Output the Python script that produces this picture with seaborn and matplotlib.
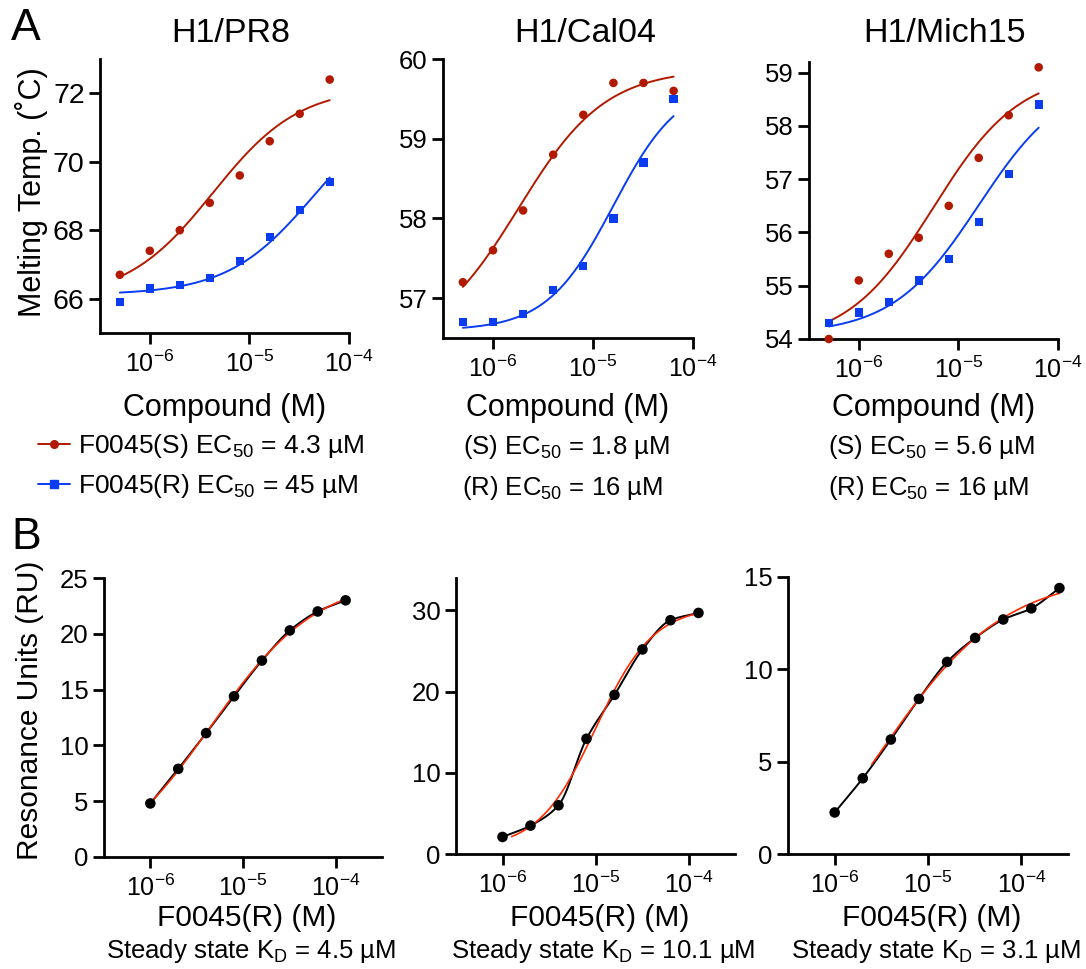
import numpy as np
import matplotlib
matplotlib.use("Agg")
import matplotlib.pyplot as plt
import seaborn as sns
from matplotlib.lines import Line2D

sns.set_style("ticks")
plt.rcParams['font.family'] = ['Liberation Sans', 'DejaVu Sans']
plt.rcParams.update({
    'mathtext.fontset': 'custom', 'mathtext.rm': 'Liberation Sans',
    'mathtext.it': 'Liberation Sans:italic', 'mathtext.default': 'regular',
    'axes.linewidth': 2.0, 'axes.edgecolor': 'black',
    'xtick.major.width': 2.0, 'ytick.major.width': 2.0,
    'xtick.major.size': 8, 'ytick.major.size': 8,
    'xtick.color': 'black', 'ytick.color': 'black', 'text.color': 'black',
})

RED = '#b21a00'
BLUE = '#0a3cf2'
FIT_RED = '#ff2a00'

# ── Panel A: thermal shift data ──
conc_a = [5e-7, 1e-6, 2e-6, 4e-6, 8e-6, 1.6e-5, 3.2e-5, 6.4e-5]
strains = ['H1/PR8', 'H1/Cal04', 'H1/Mich15']
pr8_s = [66.7, 67.4, 68.0, 68.8, 69.6, 70.6, 71.4, 72.4]
pr8_r = [65.9, 66.3, 66.4, 66.6, 67.1, 67.8, 68.6, 69.4]
cal04_s = [57.2, 57.6, 58.1, 58.8, 59.3, 59.7, 59.7, 59.6]
cal04_r = [56.7, 56.7, 56.8, 57.1, 57.4, 58.0, 58.7, 59.5]
mich15_s = [54.0, 55.1, 55.6, 55.9, 56.5, 57.4, 58.2, 59.1]
mich15_r = [54.3, 54.5, 54.7, 55.1, 55.5, 56.2, 57.1, 58.4]
ec50_s = [4.3, 1.8, 5.6]   # µM
ec50_r = [45, 16, 16]      # µM
hill_s = [1.0, 1.0, 1.0]
hill_r = [1.0, 1.3, 1.0]
ylims_a = [(65, 73), (56.5, 60), (54, 59.2)]
yticks_a = [[66, 68, 70, 72], [57, 58, 59, 60], [54, 55, 56, 57, 58, 59]]

# ── Panel B: SPR steady state data ──
conc_b = [1e-6, 2e-6, 4e-6, 8e-6, 1.6e-5, 3.2e-5, 6.4e-5, 1.28e-4]
conc_b3 = [1e-6, 2e-6, 4e-6, 8e-6, 1.6e-5, 3.2e-5, 6.4e-5, 1.28e-4, 2.56e-4]
ru_1 = [4.8, 7.9, 11.1, 14.4, 17.6, 20.3, 22.0, 23.0]
ru_2 = [2.1, 3.5, 6.0, 14.2, 19.6, 25.2, 28.8, 29.7]
ru_3 = [2.25, 4.1, 6.2, 8.4, 10.4, 11.7, 12.7, 13.3, 14.4]
kd_values = [4.5, 10.1, 3.1]   # µM
fit_start_b = [1e-6, 1.25e-6, 2.5e-6]
ylims_b = [(0, 25), (0, 34), (0, 15)]
yticks_b = [[0, 5, 10, 15, 20, 25], [0, 10, 20, 30], [0, 5, 10, 15]]


def fit_curve(x, y, ec50, x_lo, x_hi, hill=None):
    # sigmoid with EC50 fixed; hill given or grid searched; bottom/top by least squares
    x = np.asarray(x, float)
    y = np.asarray(y, float)
    hills = [hill] if hill is not None else np.linspace(0.5, 3.0, 101)
    best = None
    for h in hills:
        f = 1 / (1 + (ec50 / x) ** h)
        A = np.column_stack([1 - f, f])
        coef = np.linalg.lstsq(A, y, rcond=None)[0]
        sse = np.sum((A @ coef - y) ** 2)
        if best is None or sse < best[0]:
            best = (sse, h, coef)
    _, h, (bot, top) = best
    xs = np.logspace(np.log10(x_lo), np.log10(x_hi), 200)
    fs = 1 / (1 + (ec50 / xs) ** h)
    return xs, bot + (top - bot) * fs


def smooth_line(x, y, n=30):
    # monotone cubic (Fritsch-Carlson) through the points in log-x
    lx = np.log10(x)
    y = np.asarray(y, float)
    d = np.diff(y) / np.diff(lx)
    m = np.empty_like(y)
    m[0], m[-1] = d[0], d[-1]
    for k in range(1, len(y) - 1):
        m[k] = 0 if d[k - 1] * d[k] <= 0 else 2 / (1 / d[k - 1] + 1 / d[k])
    xs, ys = [], []
    t = np.linspace(0, 1, n)
    for i in range(len(lx) - 1):
        h = lx[i + 1] - lx[i]
        h00 = 2 * t**3 - 3 * t**2 + 1
        h10 = t**3 - 2 * t**2 + t
        h01 = -2 * t**3 + 3 * t**2
        h11 = t**3 - t**2
        xs.append(10 ** (lx[i] + t * h))
        ys.append(h00 * y[i] + h10 * h * m[i] + h01 * y[i + 1] + h11 * h * m[i + 1])
    return np.concatenate(xs), np.concatenate(ys)


def fx(px):
    return px / 1086


def fy(py):
    return 1 - py / 969


def style_axis(ax, xlim, ylim, yticks, ysize):
    ax.set_xscale('log')
    ax.set_xlim(*xlim)
    ax.set_ylim(*ylim)
    ax.set_xticks([1e-6, 1e-5, 1e-4])
    ax.xaxis.set_minor_locator(matplotlib.ticker.NullLocator())
    ax.set_yticks(yticks)
    ax.tick_params(axis='x', labelsize=18, pad=5)
    ax.tick_params(axis='y', labelsize=ysize, pad=3)
    ax.spines[['top', 'right']].set_visible(False)
    ax.set_xlabel('')
    ax.set_ylabel('')


fig = plt.figure(figsize=(10.86, 9.69), dpi=100)

# ── Row A ──
boxes_a = [(100, 59, 349, 333), (443, 59, 693, 338), (809, 62, 1058, 339)]
data_s = [pr8_s, cal04_s, mich15_s]
data_r = [pr8_r, cal04_r, mich15_r]
title_x = [231, 585, 945]
for i, (l, t, r, b) in enumerate(boxes_a):
    ax = fig.add_axes([fx(l), fy(b), fx(r) - fx(l), fy(t) - fy(b)])
    ax.set_xscale('log')
    xs, ys = fit_curve(conc_a, data_s[i], ec50_s[i] * 1e-6, conc_a[0], conc_a[-1], hill_s[i])
    sns.lineplot(x=xs, y=ys, ax=ax, color=RED, lw=1.4, sort=False, estimator=None)
    xs, ys = fit_curve(conc_a, data_r[i], ec50_r[i] * 1e-6, conc_a[0], conc_a[-1], hill_r[i])
    sns.lineplot(x=xs, y=ys, ax=ax, color=BLUE, lw=1.4, sort=False, estimator=None)
    sns.scatterplot(x=conc_a, y=data_s[i], ax=ax, color=RED, marker='o', s=38,
                    edgecolor='none', zorder=3, clip_on=False)
    sns.scatterplot(x=conc_a, y=data_r[i], ax=ax, color=BLUE, marker='s', s=36,
                    edgecolor='none', zorder=3, clip_on=False)
    style_axis(ax, (10 ** -6.5, 1e-4), ylims_a[i], yticks_a[i], 20.5 if i == 0 else 18.5)
    fig.text(fx(title_x[i]), fy(33), strains[i], ha='center', va='center', fontsize=24.5)
    fig.text(fx((l + r) / 2), fy(408), 'Compound (M)', ha='center', va='center', fontsize=22)
    if i > 0:
        fig.text(fx((l + r) / 2 - 2), fy(447), f'(S) EC$_{{50}}$ = {ec50_s[i]} µM',
                 ha='center', va='center', fontsize=18.5)
        fig.text(fx((l + r) / 2 - 5), fy(488), f'(R) EC$_{{50}}$ = {ec50_r[i]} µM',
                 ha='center', va='center', fontsize=18.5)

handles = [Line2D([0], [0], color=RED, lw=1.4, marker='o', ms=5.5),
           Line2D([0], [0], color=BLUE, lw=1.4, marker='s', ms=5.5)]
fig.legend(handles, [f'F0045(S) EC$_{{50}}$ = {ec50_s[0]} µM',
                     f'F0045(R) EC$_{{50}}$ = {ec50_r[0]} µM'],
           loc='upper left', bbox_to_anchor=(fx(38), fy(432)), frameon=False,
           fontsize=19, handlelength=1.2, handletextpad=0.3, labelspacing=0.45,
           borderpad=0, borderaxespad=0)
fig.text(fx(31), fy(192), 'Melting Temp. (˚C)', rotation=90, ha='center', va='center',
         fontsize=22)
fig.text(fx(26), fy(29), 'A', ha='center', va='center', fontsize=32)

# ── Row B ──
boxes_b = [(104, 578, 382, 857), (456, 578, 735, 854), (788, 577, 1068, 854)]
conc_list = [conc_b, conc_b, conc_b3]
ru_list = [ru_1, ru_2, ru_3]
for i, (l, t, r, b) in enumerate(boxes_b):
    ax = fig.add_axes([fx(l), fy(b), fx(r) - fx(l), fy(t) - fy(b)])
    ax.set_xscale('log')
    xs, ys = smooth_line(conc_list[i], ru_list[i])
    sns.lineplot(x=xs, y=ys, ax=ax, color='black', lw=1.4, sort=False, estimator=None)
    xs, ys = fit_curve(conc_list[i], ru_list[i], kd_values[i] * 1e-6, fit_start_b[i],
                       conc_list[i][-1])
    sns.lineplot(x=xs, y=ys, ax=ax, color=FIT_RED, lw=1.2, sort=False, estimator=None)
    sns.scatterplot(x=conc_list[i], y=ru_list[i], ax=ax, color='black', marker='o', s=58,
                    edgecolor='none', zorder=3, clip_on=False)
    style_axis(ax, (10 ** -6.5, 10 ** -3.5), ylims_b[i], yticks_b[i], 18.5)
    fig.text(fx((l + r) / 2 + 4), fy(918), 'F0045(R) (M)', ha='center', va='center',
             fontsize=21.5)
    fig.text(fx((l + r) / 2 + 8), fy(951), f'Steady state K$_D$ = {kd_values[i]} µM',
             ha='center', va='center', fontsize=18.5)

fig.text(fx(30), fy(710), 'Resonance Units (RU)', rotation=90, ha='center', va='center',
         fontsize=21.5)
fig.text(fx(26), fy(549), 'B', ha='center', va='baseline', fontsize=32)

fig.savefig('out.png', dpi=100)
